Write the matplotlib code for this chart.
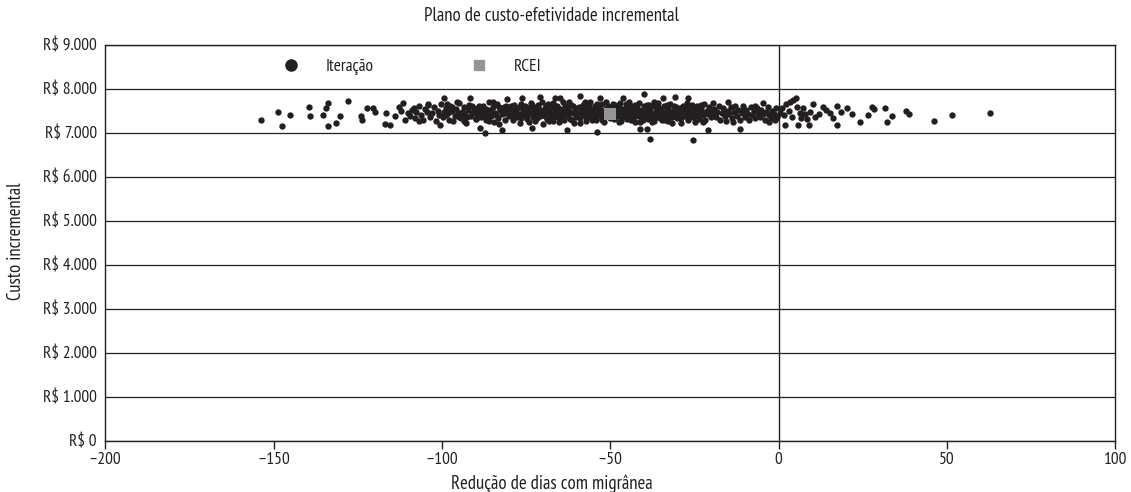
import matplotlib
matplotlib.use('Agg')
import matplotlib.pyplot as plt
from matplotlib.lines import Line2D
from matplotlib.ticker import FuncFormatter

plt.rcParams['font.family'] = ['PT Sans Narrow', 'DejaVu Sans']

# iteracoes (reducao de dias, custo incremental)
left_tail = [
    (-153.6, 7300), (-148.6, 7477), (-147.6, 7147), (-145.2, 7400), (-139.5, 7592),
    (-139.2, 7385), (-133.7, 7670), (-134.5, 7570), (-135.2, 7415), (-133.8, 7147),
    (-131.5, 7223), (-130.3, 7378), (-127.8, 7724), (-124.1, 7378), (-123.6, 7285),
    (-122.3, 7570), (-120.4, 7553), (-120.0, 7462), (-116.5, 7454), (-117.0, 7207),
    (-115.4, 7185), (-113.8, 7378), (-112.8, 7592), (-111.6, 7685), (-112.0, 7493),
    (-111.0, 7300), (-104.0, 7643), (-108.4, 7553), (-106.9, 7266),
]

core_110_90 = [
    (-110.2, 7450), (-109.5, 7380), (-108.8, 7520), (-108.1, 7330), (-107.6, 7470),
    (-106.9, 7600), (-106.3, 7410), (-105.7, 7300), (-105.1, 7550), (-104.5, 7480),
    (-104.0, 7640), (-103.4, 7360), (-102.9, 7440), (-102.3, 7580), (-101.8, 7270),
    (-101.2, 7500), (-100.7, 7410), (-100.2, 7660), (-100.5, 7175), (-99.5, 7795),
    (-99.8, 7350), (-99.3, 7470), (-98.9, 7560), (-98.4, 7420), (-98.0, 7300),
    (-97.6, 7620), (-97.1, 7500), (-96.6, 7266), (-96.2, 7390), (-95.8, 7540),
    (-95.3, 7450), (-94.9, 7680), (-94.4, 7330), (-94.0, 7480), (-93.5, 7590),
    (-93.1, 7410), (-92.7, 7220), (-92.2, 7520), (-91.8, 7640), (-91.5, 7780),
    (-91.3, 7380), (-90.9, 7460), (-90.4, 7570), (-90.0, 7310), (-99.0, 7400),
    (-97.9, 7480), (-96.9, 7580), (-95.0, 7360), (-93.8, 7440), (-92.5, 7350),
    (-91.0, 7600), (-90.2, 7500), (-98.6, 7650), (-95.6, 7700), (-93.3, 7260),
]

core_90_70 = [
    (-89.6, 7420), (-89.2, 7540), (-88.7, 7098), (-88.5, 7360), (-88.1, 7480),
    (-87.7, 7620), (-87.2, 6984), (-87.0, 7300), (-86.6, 7440), (-86.1, 7689),
    (-85.8, 7510), (-85.3, 7380), (-84.9, 7590), (-84.5, 7250), (-84.1, 7460),
    (-83.6, 7650), (-83.2, 7340), (-82.8, 7520), (-82.2, 7061), (-82.0, 7420),
    (-81.6, 7580), (-81.1, 7300), (-80.7, 7766), (-80.5, 7470), (-80.1, 7380),
    (-89.9, 7320), (-88.9, 7600), (-87.9, 7400), (-86.9, 7550), (-85.9, 7270),
    (-84.7, 7700), (-83.9, 7400), (-82.9, 7200), (-81.9, 7500), (-80.9, 7620),
    (-89.4, 7470), (-88.3, 7530), (-86.3, 7360), (-85.0, 7460), (-83.0, 7590),
    (-81.3, 7440), (-80.3, 7550),
    (-79.7, 7410), (-79.3, 7530), (-78.9, 7300), (-78.5, 7640), (-78.1, 7460),
    (-77.7, 7360), (-77.2, 7580), (-76.8, 7230), (-76.2, 7780), (-76.0, 7490),
    (-75.6, 7400), (-75.2, 7610), (-74.8, 7320), (-74.4, 7520), (-74.0, 7440),
    (-73.6, 7680), (-73.3, 7098), (-73.0, 7370), (-72.6, 7560), (-72.2, 7270),
    (-71.8, 7470), (-71.4, 7630), (-70.8, 7818), (-70.9, 7390), (-70.5, 7500),
    (-70.1, 7200), (-79.5, 7600), (-78.7, 7380), (-77.9, 7520), (-77.0, 7420),
    (-76.4, 7330), (-75.9, 7560), (-75.0, 7460), (-74.2, 7250), (-73.8, 7590),
    (-72.9, 7480), (-72.4, 7400), (-71.6, 7330), (-71.1, 7550), (-70.3, 7700),
    (-79.0, 7450), (-78.3, 7560), (-76.6, 7660), (-74.6, 7380), (-73.1, 7640),
    (-71.9, 7360),
]

core_70_50 = [
    (-69.7, 7430), (-69.3, 7560), (-68.9, 7320), (-68.5, 7650), (-68.1, 7480),
    (-67.7, 7380), (-67.3, 7590), (-66.9, 7260), (-66.4, 7795), (-66.5, 7500),
    (-66.1, 7410), (-65.7, 7620), (-65.3, 7340), (-64.9, 7795), (-64.9, 7530),
    (-64.5, 7450), (-64.1, 7690), (-63.7, 7300), (-63.3, 7470), (-62.9, 7061),
    (-62.9, 7580), (-62.5, 7390), (-62.1, 7500), (-61.7, 7640), (-61.3, 7280),
    (-60.9, 7440), (-60.5, 7560), (-60.1, 7360), (-69.5, 7380), (-68.7, 7520),
    (-67.9, 7440), (-67.1, 7680), (-66.7, 7350), (-65.9, 7460), (-65.1, 7240),
    (-64.3, 7390), (-63.5, 7610), (-62.7, 7430), (-61.9, 7320), (-61.1, 7600),
    (-60.3, 7480), (-69.1, 7620), (-68.3, 7260), (-65.5, 7560), (-63.9, 7520),
    (-62.3, 7700), (-60.7, 7220),
    (-59.7, 7450), (-59.3, 7580), (-59.0, 7841), (-58.9, 7330), (-58.5, 7500),
    (-58.1, 7640), (-57.7, 7400), (-57.3, 7270), (-56.9, 7560), (-56.5, 7460),
    (-56.1, 7690), (-55.7, 7350), (-55.3, 7520), (-54.9, 7430), (-54.5, 7610),
    (-54.0, 7023), (-54.1, 7300), (-53.7, 7480), (-53.3, 7570), (-53.0, 7780),
    (-52.9, 7380), (-52.5, 7650), (-52.1, 7460), (-51.7, 7250), (-51.3, 7540),
    (-50.9, 7410), (-50.5, 7600), (-50.1, 7330), (-59.5, 7380), (-58.7, 7420),
    (-57.9, 7530), (-57.1, 7360), (-56.3, 7600), (-55.5, 7280), (-54.7, 7520),
    (-53.9, 7650), (-53.5, 7400), (-52.7, 7520), (-51.9, 7360), (-51.1, 7700),
    (-50.3, 7480), (-59.1, 7220), (-57.5, 7700), (-55.9, 7460), (-54.3, 7380),
    (-52.3, 7280), (-50.7, 7540),
]

core_50_30 = [
    (-49.7, 7440), (-49.3, 7560), (-48.9, 7320), (-48.5, 7640), (-48.1, 7490),
    (-47.7, 7380), (-47.3, 7590), (-46.9, 7260), (-46.5, 7470), (-46.1, 7780),
    (-46.1, 7530), (-45.7, 7400), (-45.3, 7660), (-44.9, 7310), (-44.5, 7500),
    (-44.1, 7420), (-43.7, 7600), (-43.3, 7350), (-42.9, 7480), (-42.5, 7240),
    (-42.1, 7560), (-41.7, 7430), (-41.2, 7075), (-41.3, 7680), (-40.9, 7340),
    (-40.5, 7500), (-40.1, 7610), (-39.9, 7879), (-49.5, 7360), (-48.7, 7520),
    (-47.9, 7430), (-47.1, 7680), (-46.3, 7360), (-45.5, 7540), (-44.7, 7620),
    (-43.9, 7280), (-43.1, 7540), (-42.3, 7380), (-41.5, 7520), (-40.7, 7420),
    (-40.3, 7300), (-49.1, 7660), (-47.5, 7240), (-45.9, 7460), (-44.3, 7700),
    (-42.7, 7640), (-41.1, 7240),
    (-39.7, 7450), (-39.3, 7570), (-39.2, 7075), (-38.9, 7320), (-38.5, 7640),
    (-38.2, 6870), (-38.1, 7490), (-37.7, 7380), (-37.3, 7600), (-36.9, 7270),
    (-36.5, 7500), (-36.1, 7420), (-35.7, 7680), (-35.3, 7340), (-34.9, 7540),
    (-34.5, 7450), (-34.2, 7795), (-34.1, 7620), (-33.7, 7300), (-33.3, 7480),
    (-32.9, 7560), (-32.5, 7380), (-32.1, 7660), (-31.7, 7230), (-31.3, 7500),
    (-30.8, 7818), (-30.9, 7420), (-30.5, 7590), (-30.1, 7330), (-39.5, 7380),
    (-38.7, 7520), (-37.9, 7420), (-37.1, 7690), (-36.3, 7360), (-35.5, 7460),
    (-34.7, 7280), (-33.9, 7400), (-33.1, 7640), (-32.3, 7440), (-31.5, 7360),
    (-30.7, 7500), (-39.1, 7640), (-37.5, 7240), (-35.9, 7580), (-34.3, 7360),
    (-32.7, 7260), (-31.1, 7620),
]

core_30_0 = [
    (-29.7, 7440), (-29.3, 7560), (-28.9, 7330), (-28.5, 7620), (-28.1, 7480),
    (-27.7, 7380), (-27.3, 7580), (-26.8, 7795), (-26.9, 7280), (-26.5, 7500),
    (-26.1, 7420), (-25.7, 7640), (-25.3, 6834), (-25.3, 7350), (-24.9, 7530),
    (-24.5, 7460), (-24.1, 7600), (-23.7, 7320), (-23.3, 7480), (-22.9, 7560),
    (-22.5, 7400), (-22.1, 7660), (-21.7, 7300), (-21.3, 7500), (-20.9, 7061),
    (-20.9, 7420), (-20.5, 7580), (-20.1, 7360), (-29.5, 7360), (-28.7, 7520),
    (-27.9, 7420), (-27.1, 7680), (-26.3, 7360), (-25.5, 7560), (-24.7, 7240),
    (-23.9, 7420), (-23.1, 7640), (-22.3, 7250), (-21.5, 7440), (-20.7, 7500),
    (-29.1, 7220), (-27.5, 7460), (-24.3, 7380), (-22.7, 7470),
    (-19.7, 7440), (-19.4, 7666), (-19.1, 7540), (-18.6, 7350), (-18.2, 7480),
    (-17.7, 7600), (-17.3, 7300), (-16.8, 7460), (-16.4, 7560), (-15.9, 7390),
    (-15.5, 7260), (-14.9, 7689), (-15.1, 7500), (-14.6, 7420), (-14.1, 7580),
    (-13.7, 7340), (-13.2, 7470), (-12.8, 7620), (-12.3, 7380), (-11.9, 7520),
    (-11.5, 7075), (-11.4, 7300), (-10.9, 7450), (-10.5, 7614), (-10.1, 7360),
    (-9.6, 7520), (-9.2, 7430), (-8.7, 7280), (-8.3, 7580), (-7.8, 7400),
    (-7.4, 7490), (-6.9, 7330), (-6.5, 7560), (-6.0, 7440), (-5.6, 7360),
    (-5.1, 7520), (-4.6, 7666), (-4.6, 7420), (-4.1, 7300), (-3.6, 7480),
    (-3.2, 7580), (-2.7, 7400), (-2.2, 7340), (-1.8, 7500), (-1.3, 7430),
    (-0.8, 7560), (-0.4, 7360), (-18.9, 7420), (-16.1, 7520), (-13.4, 7250),
    (-10.7, 7500), (-7.1, 7600), (-2.9, 7250), (-1.0, 7300),
]

right_tail = [
    (0.4, 7460), (1.0, 7560), (1.6, 7402), (1.8, 7175), (2.3, 7643),
    (3.3, 7689), (4.3, 7743), (5.2, 7795), (3.0, 7500), (4.0, 7350),
    (5.5, 7591), (6.3, 7439), (7.3, 7553), (6.7, 7325), (5.8, 7175),
    (9.1, 7175), (8.6, 7311), (10.1, 7643), (10.7, 7364), (9.5, 7480),
    (8.0, 7420), (12.0, 7420), (13.2, 7591), (14.2, 7516), (15.4, 7439),
    (16.2, 7341), (17.4, 7614), (17.4, 7175), (18.7, 7477), (20.4, 7553),
    (21.7, 7416), (24.1, 7250), (26.6, 7402), (27.9, 7591), (28.5, 7539),
    (31.5, 7553), (32.2, 7250), (33.8, 7386), (38.0, 7493), (38.8, 7416),
    (46.3, 7266), (51.6, 7402), (62.9, 7439),
]

# razao de custo-efetividade incremental
rcei_x = -50.1
rcei_y = 7425

xticks = [-200, -150, -100, -50, 0, 50, 100]
yticks = [0, 1000, 2000, 3000, 4000, 5000, 6000, 7000, 8000, 9000]

ink = '#231f20'
grey = '#949598'

points = left_tail + core_110_90 + core_90_70 + core_70_50 + core_50_30 + core_30_0 + right_tail
xs = [p[0] for p in points]
ys = [p[1] for p in points]

fig = plt.figure(figsize=(11.31, 4.92), dpi=100)
ax = fig.add_axes([0.093, 0.104, 0.893, 0.805])

ax.scatter(xs, ys, s=21, color=ink, linewidths=0, zorder=3)
ax.scatter([rcei_x], [rcei_y], marker='s', s=85, color=grey, linewidths=0, zorder=4)

ax.axvline(0, color=ink, lw=1.0, zorder=2)
ax.set_xlim(-200, 100)
ax.set_ylim(0, 9000)
ax.set_xticks(xticks)
ax.set_yticks(yticks)
ax.xaxis.set_major_formatter(FuncFormatter(lambda v, pos: '{:.0f}'.format(v).replace('-', '\u2013')))
ax.yaxis.set_major_formatter(FuncFormatter(lambda v, pos: 'R$ {:,.0f}'.format(v).replace(',', '.')))
ax.yaxis.grid(True, color=ink, lw=0.9, zorder=1)
ax.set_axisbelow(True)
for side in ax.spines:
    ax.spines[side].set_color(ink)
    ax.spines[side].set_linewidth(1.0)
ax.tick_params(axis='x', direction='out', length=6, width=1, color=ink, labelsize=12.5, labelcolor=ink, pad=2)
ax.tick_params(axis='y', length=0, labelsize=12.5, labelcolor=ink, pad=6)

handles = [
    Line2D([], [], marker='o', ls='', color=ink, markersize=8),
    Line2D([], [], marker='s', ls='', color=grey, markersize=7.5),
]
ax.legend(handles, ['Iteração', 'RCEI'], loc='center left', bbox_to_anchor=(0.175, 0.944),
          ncol=2, frameon=False, fontsize=12.5, handlelength=1.0, handletextpad=1.5,
          columnspacing=5.6, borderpad=0, borderaxespad=0, labelcolor=ink)

fig.text(0.488, 0.968, 'Plano de custo-efetividade incremental', ha='center', va='center', fontsize=13.5, color=ink)
fig.text(0.488, 0.016, 'Redução de dias com migrânea', ha='center', va='center', fontsize=13.5, color=ink)
fig.text(0.014, 0.51, 'Custo incremental', ha='center', va='center', rotation=90, fontsize=13.5, color=ink)

fig.savefig('out.png', dpi=100)
